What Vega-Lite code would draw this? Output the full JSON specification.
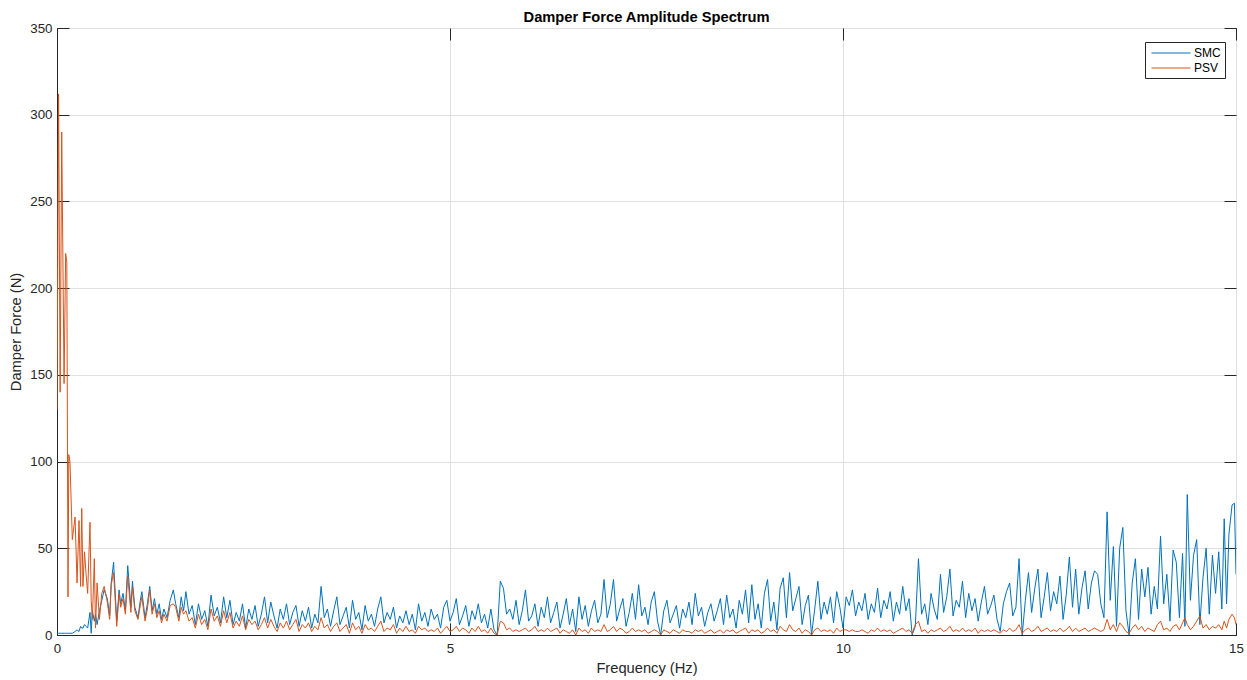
{
  "$schema": "https://vega.github.io/schema/vega-lite/v6.json",
  "width": 1179,
  "height": 607,
  "autosize": {"type": "none"},
  "padding": {"left": 57, "top": 28, "right": 11, "bottom": 45},
  "background": "white",
  "title": {"text": "Damper Force Amplitude Spectrum", "font": "Liberation Sans", "fontSize": 14.7, "fontWeight": "bold", "color": "#000000", "offset": -4, "anchor": "middle"},
  "config": {
    "view": {"stroke": "#262626", "strokeWidth": 1},
    "font": "Liberation Sans",
    "axis": {"labelFont": "Liberation Sans", "titleFont": "Liberation Sans", "labelFontSize": 13.3, "titleFontSize": 14.7, "titleFontWeight": "normal", "labelColor": "#262626", "titleColor": "#262626", "domainColor": "#262626", "tickColor": "#262626", "gridColor": "#e0e0e0", "tickSize": -12}
  },
  "data": {"values": [
    {"f":0.00,"SMC":1,"PSV":130},{"f":0.02,"SMC":1,"PSV":312},{"f":0.04,"SMC":1,"PSV":140},{"f":0.06,"SMC":1,"PSV":290},
    {"f":0.09,"SMC":1,"PSV":145},{"f":0.11,"SMC":1,"PSV":220},{"f":0.125,"SMC":1,"PSV":215},{"f":0.14,"SMC":1,"PSV":22},
    {"f":0.15,"SMC":1,"PSV":104},{"f":0.165,"SMC":1,"PSV":100},{"f":0.195,"SMC":1,"PSV":55},{"f":0.23,"SMC":2,"PSV":68},
    {"f":0.255,"SMC":3,"PSV":30},{"f":0.28,"SMC":2,"PSV":66},{"f":0.30,"SMC":5,"PSV":28},{"f":0.315,"SMC":4,"PSV":73},
    {"f":0.33,"SMC":4,"PSV":28},{"f":0.35,"SMC":6,"PSV":48},{"f":0.37,"SMC":5,"PSV":35},{"f":0.39,"SMC":4,"PSV":24},
    {"f":0.42,"SMC":13,"PSV":65},{"f":0.435,"SMC":1,"PSV":20},{"f":0.45,"SMC":14,"PSV":9},{"f":0.475,"SMC":8,"PSV":44},
    {"f":0.49,"SMC":12,"PSV":4},{"f":0.51,"SMC":6,"PSV":30},{"f":0.54,"SMC":14,"PSV":9},{"f":0.57,"SMC":20,"PSV":24},
    {"f":0.60,"SMC":26,"PSV":28},{"f":0.64,"SMC":21,"PSV":19},{"f":0.67,"SMC":11,"PSV":9},{"f":0.69,"SMC":30,"PSV":29},
    {"f":0.72,"SMC":42,"PSV":36},{"f":0.76,"SMC":8,"PSV":5},{"f":0.79,"SMC":26,"PSV":24},{"f":0.81,"SMC":18,"PSV":16},
    {"f":0.84,"SMC":24,"PSV":21},{"f":0.87,"SMC":14,"PSV":12},{"f":0.90,"SMC":40,"PSV":34},{"f":0.94,"SMC":16,"PSV":13},
    {"f":0.96,"SMC":31,"PSV":28},{"f":0.99,"SMC":16,"PSV":14},{"f":1.03,"SMC":10,"PSV":9},{"f":1.06,"SMC":20,"PSV":17},
    {"f":1.08,"SMC":25,"PSV":22},{"f":1.12,"SMC":10,"PSV":8},{"f":1.15,"SMC":18,"PSV":15},{"f":1.18,"SMC":28,"PSV":26},
    {"f":1.21,"SMC":14,"PSV":12},{"f":1.24,"SMC":21,"PSV":18},{"f":1.27,"SMC":12,"PSV":10},{"f":1.30,"SMC":18,"PSV":14},
    {"f":1.33,"SMC":9,"PSV":7},{"f":1.36,"SMC":15,"PSV":12},{"f":1.40,"SMC":10,"PSV":8},{"f":1.44,"SMC":20,"PSV":17},
    {"f":1.48,"SMC":26,"PSV":18},{"f":1.51,"SMC":18,"PSV":16},{"f":1.55,"SMC":10,"PSV":8},{"f":1.58,"SMC":22,"PSV":16},
    {"f":1.61,"SMC":14,"PSV":12},
    {"f":1.64,"SMC":25,"PSV":14},{"f":1.68,"SMC":12,"PSV":8},{"f":1.72,"SMC":17,"PSV":10},{"f":1.76,"SMC":6,"PSV":4},
    {"f":1.80,"SMC":18,"PSV":12},{"f":1.84,"SMC":9,"PSV":6},{"f":1.88,"SMC":14,"PSV":9},{"f":1.92,"SMC":5,"PSV":3},
    {"f":1.96,"SMC":23,"PSV":15},{"f":2.00,"SMC":11,"PSV":8},{"f":2.04,"SMC":16,"PSV":11},{"f":2.08,"SMC":7,"PSV":5},
    {"f":2.12,"SMC":22,"PSV":14},{"f":2.16,"SMC":10,"PSV":7},{"f":2.20,"SMC":20,"PSV":13},{"f":2.24,"SMC":6,"PSV":4},
    {"f":2.28,"SMC":13,"PSV":8},{"f":2.32,"SMC":8,"PSV":5},{"f":2.36,"SMC":18,"PSV":11},{"f":2.40,"SMC":4,"PSV":3},
    {"f":2.44,"SMC":15,"PSV":9},{"f":2.48,"SMC":9,"PSV":6},
    {"f":2.52,"SMC":17,"PSV":8},{"f":2.56,"SMC":5,"PSV":3},{"f":2.60,"SMC":12,"PSV":6},{"f":2.64,"SMC":22,"PSV":10},
    {"f":2.68,"SMC":7,"PSV":4},{"f":2.72,"SMC":19,"PSV":9},{"f":2.76,"SMC":11,"PSV":5},{"f":2.80,"SMC":4,"PSV":2},
    {"f":2.84,"SMC":15,"PSV":7},{"f":2.88,"SMC":9,"PSV":4},{"f":2.92,"SMC":18,"PSV":8},{"f":2.96,"SMC":6,"PSV":3},
    {"f":3.00,"SMC":13,"PSV":6},{"f":3.04,"SMC":17,"PSV":9},{"f":3.08,"SMC":5,"PSV":2},{"f":3.12,"SMC":14,"PSV":6},
    {"f":3.16,"SMC":8,"PSV":4},{"f":3.20,"SMC":16,"PSV":7},{"f":3.24,"SMC":4,"PSV":2},{"f":3.28,"SMC":12,"PSV":5},
    {"f":3.32,"SMC":7,"PSV":3},{"f":3.36,"SMC":28,"PSV":10},{"f":3.40,"SMC":10,"PSV":4},{"f":3.44,"SMC":15,"PSV":6},
    {"f":3.48,"SMC":5,"PSV":2},
    {"f":3.52,"SMC":14,"PSV":5},{"f":3.56,"SMC":22,"PSV":7},{"f":3.60,"SMC":6,"PSV":2},{"f":3.64,"SMC":11,"PSV":4},
    {"f":3.68,"SMC":16,"PSV":6},{"f":3.72,"SMC":4,"PSV":1},{"f":3.76,"SMC":20,"PSV":7},{"f":3.80,"SMC":9,"PSV":3},
    {"f":3.84,"SMC":13,"PSV":5},{"f":3.88,"SMC":3,"PSV":1},{"f":3.92,"SMC":17,"PSV":6},{"f":3.96,"SMC":8,"PSV":3},
    {"f":4.00,"SMC":12,"PSV":4},{"f":4.04,"SMC":5,"PSV":2},{"f":4.08,"SMC":15,"PSV":5},{"f":4.12,"SMC":22,"PSV":8},
    {"f":4.16,"SMC":7,"PSV":2},{"f":4.20,"SMC":13,"PSV":4},{"f":4.24,"SMC":9,"PSV":3},{"f":4.28,"SMC":16,"PSV":6},
    {"f":4.32,"SMC":4,"PSV":1},{"f":4.36,"SMC":11,"PSV":4},{"f":4.40,"SMC":7,"PSV":2},{"f":4.44,"SMC":14,"PSV":5},
    {"f":4.48,"SMC":6,"PSV":2},{"f":4.52,"SMC":12,"PSV":3},{"f":4.56,"SMC":3,"PSV":1},{"f":4.60,"SMC":18,"PSV":5},
    {"f":4.64,"SMC":8,"PSV":3},{"f":4.68,"SMC":13,"PSV":4},{"f":4.72,"SMC":5,"PSV":2},{"f":4.76,"SMC":15,"PSV":3},
    {"f":4.80,"SMC":9,"PSV":2},{"f":4.84,"SMC":12,"PSV":4},{"f":4.88,"SMC":4,"PSV":1},{"f":4.92,"SMC":16,"PSV":3},
    {"f":4.96,"SMC":20,"PSV":5},{"f":5.00,"SMC":8,"PSV":2},
    {"f":5.04,"SMC":13,"PSV":3},{"f":5.08,"SMC":21,"PSV":5},{"f":5.12,"SMC":6,"PSV":2},{"f":5.16,"SMC":11,"PSV":4},
    {"f":5.20,"SMC":17,"PSV":3},{"f":5.24,"SMC":5,"PSV":1},{"f":5.28,"SMC":14,"PSV":4},{"f":5.32,"SMC":9,"PSV":2},
    {"f":5.36,"SMC":18,"PSV":5},{"f":5.40,"SMC":7,"PSV":2},{"f":5.44,"SMC":12,"PSV":3},{"f":5.48,"SMC":4,"PSV":1},
    {"f":5.52,"SMC":15,"PSV":4},{"f":5.56,"SMC":3,"PSV":1},{"f":5.60,"SMC":0,"PSV":0},{"f":5.64,"SMC":31,"PSV":8},
    {"f":5.68,"SMC":27,"PSV":7},{"f":5.72,"SMC":12,"PSV":3},{"f":5.76,"SMC":15,"PSV":4},{"f":5.80,"SMC":9,"PSV":2},
    {"f":5.84,"SMC":20,"PSV":3},{"f":5.88,"SMC":6,"PSV":2},{"f":5.92,"SMC":14,"PSV":3},{"f":5.96,"SMC":26,"PSV":4},
    {"f":6.00,"SMC":8,"PSV":2},{"f":6.04,"SMC":11,"PSV":3},{"f":6.08,"SMC":18,"PSV":5},{"f":6.12,"SMC":5,"PSV":2},
    {"f":6.16,"SMC":16,"PSV":3},{"f":6.20,"SMC":10,"PSV":2},{"f":6.24,"SMC":22,"PSV":4},{"f":6.28,"SMC":7,"PSV":2},
    {"f":6.32,"SMC":13,"PSV":3},{"f":6.36,"SMC":19,"PSV":4},{"f":6.40,"SMC":4,"PSV":1},{"f":6.44,"SMC":12,"PSV":3},
    {"f":6.48,"SMC":21,"PSV":2},{"f":6.52,"SMC":6,"PSV":1},{"f":6.56,"SMC":15,"PSV":3},{"f":6.60,"SMC":2,"PSV":0},
    {"f":6.64,"SMC":22,"PSV":4},{"f":6.68,"SMC":9,"PSV":2},{"f":6.72,"SMC":17,"PSV":3},{"f":6.76,"SMC":5,"PSV":1},
    {"f":6.80,"SMC":14,"PSV":4},{"f":6.84,"SMC":20,"PSV":2},{"f":6.88,"SMC":7,"PSV":3},{"f":6.92,"SMC":12,"PSV":2},
    {"f":6.96,"SMC":32,"PSV":6},{"f":7.00,"SMC":10,"PSV":2},{"f":7.04,"SMC":18,"PSV":3},{"f":7.08,"SMC":32,"PSV":5},
    {"f":7.12,"SMC":8,"PSV":2},{"f":7.16,"SMC":15,"PSV":4},{"f":7.20,"SMC":21,"PSV":3},{"f":7.24,"SMC":5,"PSV":1},
    {"f":7.28,"SMC":13,"PSV":2},{"f":7.32,"SMC":24,"PSV":4},{"f":7.36,"SMC":9,"PSV":2},{"f":7.40,"SMC":29,"PSV":3},
    {"f":7.44,"SMC":11,"PSV":2},{"f":7.48,"SMC":16,"PSV":3},{"f":7.52,"SMC":6,"PSV":1},{"f":7.56,"SMC":19,"PSV":2},
    {"f":7.60,"SMC":25,"PSV":3},{"f":7.64,"SMC":8,"PSV":2},{"f":7.68,"SMC":0,"PSV":0},{"f":7.72,"SMC":14,"PSV":3},
    {"f":7.76,"SMC":20,"PSV":2},{"f":7.80,"SMC":7,"PSV":1},{"f":7.84,"SMC":12,"PSV":3},{"f":7.88,"SMC":17,"PSV":2},
    {"f":7.92,"SMC":4,"PSV":1},{"f":7.96,"SMC":15,"PSV":3},{"f":8.00,"SMC":10,"PSV":2},{"f":8.04,"SMC":19,"PSV":2},
    {"f":8.08,"SMC":6,"PSV":1},{"f":8.12,"SMC":24,"PSV":3},{"f":8.16,"SMC":11,"PSV":2},{"f":8.20,"SMC":16,"PSV":3},
    {"f":8.24,"SMC":5,"PSV":1},{"f":8.28,"SMC":13,"PSV":2},{"f":8.32,"SMC":18,"PSV":3},{"f":8.36,"SMC":8,"PSV":1},
    {"f":8.40,"SMC":14,"PSV":2},{"f":8.44,"SMC":21,"PSV":3},{"f":8.48,"SMC":6,"PSV":1},{"f":8.52,"SMC":23,"PSV":3},
    {"f":8.56,"SMC":10,"PSV":2},{"f":8.60,"SMC":15,"PSV":3},{"f":8.64,"SMC":4,"PSV":1},{"f":8.68,"SMC":20,"PSV":2},
    {"f":8.72,"SMC":12,"PSV":3},{"f":8.76,"SMC":26,"PSV":4},{"f":8.80,"SMC":7,"PSV":1},{"f":8.84,"SMC":29,"PSV":3},
    {"f":8.88,"SMC":9,"PSV":2},{"f":8.92,"SMC":18,"PSV":3},{"f":8.96,"SMC":4,"PSV":1},{"f":9.00,"SMC":24,"PSV":2},
    {"f":9.04,"SMC":32,"PSV":4},{"f":9.08,"SMC":8,"PSV":2},{"f":9.12,"SMC":19,"PSV":3},{"f":9.16,"SMC":3,"PSV":1},
    {"f":9.20,"SMC":27,"PSV":5},{"f":9.24,"SMC":33,"PSV":3},{"f":9.28,"SMC":10,"PSV":2},{"f":9.32,"SMC":36,"PSV":6},
    {"f":9.36,"SMC":14,"PSV":3},{"f":9.40,"SMC":21,"PSV":2},{"f":9.44,"SMC":28,"PSV":4},{"f":9.48,"SMC":6,"PSV":1},
    {"f":9.52,"SMC":17,"PSV":3},{"f":9.56,"SMC":23,"PSV":2},{"f":9.60,"SMC":0,"PSV":0},{"f":9.64,"SMC":15,"PSV":3},
    {"f":9.68,"SMC":31,"PSV":4},{"f":9.72,"SMC":9,"PSV":2},{"f":9.76,"SMC":19,"PSV":3},{"f":9.80,"SMC":12,"PSV":2},
    {"f":9.84,"SMC":22,"PSV":3},{"f":9.88,"SMC":7,"PSV":1},{"f":9.92,"SMC":25,"PSV":4},{"f":9.96,"SMC":16,"PSV":2},
    {"f":10.00,"SMC":4,"PSV":3},{"f":10.04,"SMC":22,"PSV":3},{"f":10.08,"SMC":17,"PSV":2},{"f":10.12,"SMC":26,"PSV":3},
    {"f":10.16,"SMC":11,"PSV":2},{"f":10.20,"SMC":19,"PSV":2},{"f":10.24,"SMC":14,"PSV":3},{"f":10.28,"SMC":24,"PSV":2},
    {"f":10.32,"SMC":9,"PSV":1},{"f":10.36,"SMC":18,"PSV":3},{"f":10.40,"SMC":13,"PSV":2},{"f":10.44,"SMC":27,"PSV":4},
    {"f":10.48,"SMC":10,"PSV":2},{"f":10.52,"SMC":20,"PSV":3},{"f":10.56,"SMC":15,"PSV":2},{"f":10.60,"SMC":25,"PSV":3},
    {"f":10.64,"SMC":8,"PSV":1},{"f":10.68,"SMC":19,"PSV":2},{"f":10.72,"SMC":12,"PSV":3},{"f":10.76,"SMC":28,"PSV":4},
    {"f":10.80,"SMC":14,"PSV":2},{"f":10.84,"SMC":21,"PSV":3},{"f":10.88,"SMC":0,"PSV":1},{"f":10.92,"SMC":5,"PSV":6},
    {"f":10.96,"SMC":44,"PSV":8},{"f":11.00,"SMC":12,"PSV":2},{"f":11.04,"SMC":18,"PSV":3},{"f":11.08,"SMC":6,"PSV":1},
    {"f":11.12,"SMC":24,"PSV":3},{"f":11.16,"SMC":15,"PSV":2},{"f":11.20,"SMC":9,"PSV":3},{"f":11.24,"SMC":35,"PSV":4},
    {"f":11.28,"SMC":13,"PSV":2},{"f":11.32,"SMC":22,"PSV":3},{"f":11.36,"SMC":38,"PSV":5},{"f":11.40,"SMC":11,"PSV":2},
    {"f":11.44,"SMC":20,"PSV":3},{"f":11.48,"SMC":16,"PSV":2},{"f":11.52,"SMC":31,"PSV":4},{"f":11.56,"SMC":10,"PSV":2},
    {"f":11.60,"SMC":24,"PSV":3},{"f":11.64,"SMC":14,"PSV":2},{"f":11.68,"SMC":21,"PSV":4},{"f":11.72,"SMC":8,"PSV":1},
    {"f":11.76,"SMC":19,"PSV":3},{"f":11.80,"SMC":28,"PSV":2},{"f":11.84,"SMC":12,"PSV":3},{"f":11.88,"SMC":17,"PSV":2},
    {"f":11.92,"SMC":23,"PSV":3},{"f":11.96,"SMC":9,"PSV":2},{"f":12.00,"SMC":2,"PSV":1},{"f":12.04,"SMC":18,"PSV":3},
    {"f":12.08,"SMC":25,"PSV":2},{"f":12.12,"SMC":30,"PSV":4},{"f":12.16,"SMC":11,"PSV":2},{"f":12.20,"SMC":16,"PSV":3},
    {"f":12.24,"SMC":44,"PSV":6},{"f":12.28,"SMC":0,"PSV":1},{"f":12.32,"SMC":20,"PSV":3},{"f":12.36,"SMC":36,"PSV":4},
    {"f":12.40,"SMC":13,"PSV":2},{"f":12.44,"SMC":27,"PSV":3},{"f":12.48,"SMC":38,"PSV":5},{"f":12.52,"SMC":10,"PSV":2},
    {"f":12.56,"SMC":22,"PSV":3},{"f":12.60,"SMC":36,"PSV":4},{"f":12.64,"SMC":14,"PSV":2},{"f":12.68,"SMC":25,"PSV":3},
    {"f":12.72,"SMC":18,"PSV":2},{"f":12.76,"SMC":34,"PSV":4},{"f":12.80,"SMC":9,"PSV":2},{"f":12.84,"SMC":23,"PSV":3},
    {"f":12.88,"SMC":45,"PSV":5},{"f":12.92,"SMC":16,"PSV":2},{"f":12.96,"SMC":38,"PSV":4},{"f":13.00,"SMC":12,"PSV":2},
    {"f":13.04,"SMC":27,"PSV":3},{"f":13.08,"SMC":37,"PSV":4},{"f":13.12,"SMC":15,"PSV":2},{"f":13.16,"SMC":30,"PSV":3},
    {"f":13.20,"SMC":37,"PSV":4},{"f":13.24,"SMC":35,"PSV":3},{"f":13.28,"SMC":18,"PSV":2},{"f":13.32,"SMC":10,"PSV":3},
    {"f":13.36,"SMC":71,"PSV":9},{"f":13.40,"SMC":20,"PSV":3},{"f":13.44,"SMC":51,"PSV":6},{"f":13.48,"SMC":5,"PSV":2},
    {"f":13.52,"SMC":50,"PSV":7},{"f":13.56,"SMC":62,"PSV":5},{"f":13.60,"SMC":14,"PSV":2},{"f":13.64,"SMC":0,"PSV":1},
    {"f":13.68,"SMC":30,"PSV":4},{"f":13.72,"SMC":44,"PSV":6},{"f":13.76,"SMC":9,"PSV":3},{"f":13.80,"SMC":38,"PSV":5},
    {"f":13.84,"SMC":22,"PSV":2},{"f":13.88,"SMC":39,"PSV":4},{"f":13.92,"SMC":12,"PSV":3},{"f":13.96,"SMC":28,"PSV":2},
    {"f":14.00,"SMC":15,"PSV":6},{"f":14.04,"SMC":57,"PSV":8},{"f":14.08,"SMC":18,"PSV":3},{"f":14.12,"SMC":35,"PSV":4},
    {"f":14.16,"SMC":8,"PSV":2},{"f":14.20,"SMC":49,"PSV":5},{"f":14.24,"SMC":42,"PSV":6},{"f":14.28,"SMC":10,"PSV":3},
    {"f":14.32,"SMC":47,"PSV":7},{"f":14.35,"SMC":5,"PSV":10},{"f":14.38,"SMC":81,"PSV":6},{"f":14.42,"SMC":20,"PSV":3},
    {"f":14.46,"SMC":46,"PSV":5},{"f":14.50,"SMC":55,"PSV":8},{"f":14.54,"SMC":6,"PSV":11},{"f":14.58,"SMC":33,"PSV":4},
    {"f":14.62,"SMC":50,"PSV":6},{"f":14.66,"SMC":12,"PSV":3},{"f":14.70,"SMC":46,"PSV":5},{"f":14.74,"SMC":24,"PSV":4},
    {"f":14.78,"SMC":48,"PSV":6},{"f":14.82,"SMC":15,"PSV":3},{"f":14.85,"SMC":67,"PSV":8},{"f":14.88,"SMC":18,"PSV":4},
    {"f":14.91,"SMC":58,"PSV":9},{"f":14.95,"SMC":75,"PSV":12},{"f":14.98,"SMC":76,"PSV":10},{"f":15.00,"SMC":35,"PSV":6}
  ]},
  "transform": [{"fold": ["SMC", "PSV"], "as": ["series", "value"]}],
  "layer": [
    {
      "transform": [{"filter": "datum.series === 'SMC'"}],
      "mark": {"type": "line", "strokeWidth": 1, "clip": true},
      "encoding": {
        "x": {"field": "f", "type": "quantitative", "scale": {"domain": [0, 15], "nice": false, "zero": false},
              "axis": {"orient": "bottom", "values": [0, 5, 10, 15], "title": "Frequency (Hz)", "labelPadding": 18, "titlePadding": 6, "grid": true, "labelFlush": false}},
        "y": {"field": "value", "type": "quantitative", "scale": {"domain": [0, 350], "nice": false},
              "axis": {"orient": "left", "values": [0, 50, 100, 150, 200, 250, 300, 350], "title": "Damper Force (N)", "labelPadding": 17, "titlePadding": 6, "grid": true}},
        "color": {"field": "series", "type": "nominal",
                  "scale": {"domain": ["SMC", "PSV"], "range": ["#0072BD", "#D95319"]},
                  "legend": {"orient": "none", "legendX": 1088, "legendY": 14, "title": null, "symbolType": "M-3,0H3", "symbolSize": 169, "symbolStrokeWidth": 1, "symbolFillColor": "transparent", "symbolOffset": 15, "labelFontSize": 12, "labelFont": "Liberation Sans", "labelColor": "#000000", "strokeColor": "#262626", "fillColor": "white", "padding": 4, "rowPadding": 2, "labelOffset": 16}}
      }
    },
    {
      "transform": [{"filter": "datum.series === 'PSV'"}],
      "mark": {"type": "line", "strokeWidth": 1, "clip": true},
      "encoding": {
        "x": {"field": "f", "type": "quantitative", "scale": {"domain": [0, 15], "nice": false, "zero": false},
              "axis": {"orient": "top", "values": [0, 5, 10, 15], "title": null, "labels": false, "grid": false, "domain": false}},
        "y": {"field": "value", "type": "quantitative", "scale": {"domain": [0, 350], "nice": false},
              "axis": {"orient": "right", "values": [0, 50, 100, 150, 200, 250, 300, 350], "title": null, "labels": false, "grid": false, "domain": false}},
        "color": {"field": "series", "type": "nominal"}
      }
    }
  ],
  "resolve": {"axis": {"x": "independent", "y": "independent"}}
}
